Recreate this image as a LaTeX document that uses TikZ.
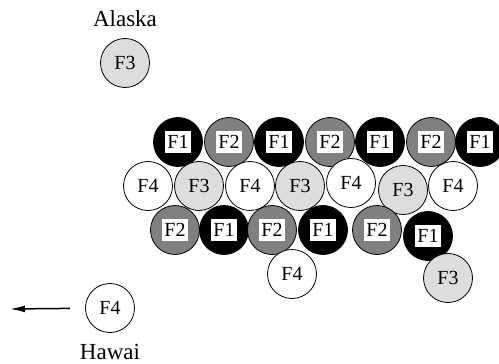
\documentclass[tikz,border=0pt]{standalone}
\usepackage{fontspec}
\setmainfont{Liberation Serif}
\usetikzlibrary{arrows.meta}

\definecolor{fgray}{RGB}{128,128,128}
\definecolor{flight}{RGB}{221,221,221}

\tikzset{
  cell/.style={circle, draw, line width=0.8pt, minimum size=49pt, inner sep=0pt,
    font=\fontsize{20}{20}\selectfont},
  tag/.style={fill=white, inner xsep=2pt, inner ysep=4.5pt,
    font=\fontsize{20}{20}\selectfont},
  fone/.style={cell, fill=black, label={[tag]center:F1}},
  ftwo/.style={cell, fill=fgray, label={[tag]center:F2}},
  fthree/.style={cell, fill=flight},
  ffour/.style={cell, fill=white},
  place/.style={font=\fontsize{23}{23}\selectfont},
}

\begin{document}
\begin{tikzpicture}[x=1pt, y=-1pt]
    \useasboundingbox (0, 0) rectangle (499, 364);

    \node[place] (alaskatxt) at (125, 19) {Alaska};
    \node[fthree] (alaska) at (125, 63) {F3};

    \node[fone] (t0) at (178, 142) {};
    \node[ftwo] (t1) at (229, 142) {};
    \node[fone] (t2) at (279, 142) {};
    \node[ftwo] (t3) at (330, 142) {};
    \node[fone] (t4) at (380, 142) {};
    \node[ftwo] (t5) at (431, 142) {};
    \node[fone] (t6) at (480, 142) {};

    \node[ffour] (m0) at (148, 186) {F4};
    \node[fthree] (m1) at (199, 186) {F3};
    \node[ffour] (m2) at (250, 186) {F4};
    \node[fthree] (m3) at (300, 186) {F3};
    \node[ffour] (m4) at (351, 183) {F4};
    \node[fthree] (m5) at (403, 190) {F3};
    \node[ffour] (m6) at (453, 186) {F4};

    \node[ftwo] (b0) at (175, 230) {};
    \node[fone] (b1) at (224, 230) {};
    \node[ftwo] (b2) at (272, 230) {};
    \node[fone] (b3) at (323, 230) {};
    \node[ftwo] (b4) at (377, 230) {};
    \node[fone] (b5) at (428, 236) {};

    \node[ffour] (b6) at (292, 274) {F4};
    \node[fthree] (b7) at (448, 278) {F3};

    \node[ffour] (hawai) at (110, 308) {F4};
    \node[place] (hawaitxt) at (110, 352) {Hawai};
    \coordinate (west) at (10, 309);

    \draw[line width=1.5pt, shorten <=15pt, -{Latex[length=15pt, width=7pt]}] (hawai) -- (west);
  \end{tikzpicture}
\end{document}
